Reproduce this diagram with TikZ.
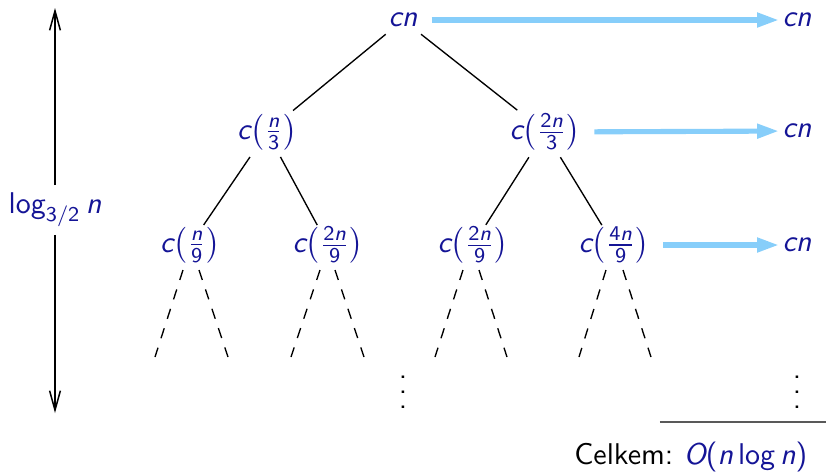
\documentclass[tikz,border=0pt]{standalone}
\usepackage{amsmath}
\usetikzlibrary{arrows.meta}
\renewcommand\familydefault{\sfdefault}
\DeclareMathVersion{sans}
\SetSymbolFont{operators}{sans}{TU}{lmss}{m}{n}
\SetSymbolFont{letters}{sans}{TU}{lmss}{m}{sl}
\AtBeginDocument{\mathversion{sans}}
\definecolor{nodeblue}{RGB}{20,20,150}
\definecolor{arrowblue}{RGB}{135,206,250}
\newcommand{\myvdots}{\vbox{\baselineskip5pt\lineskiplimit0pt\hbox{.}\hbox{.}\hbox{.}}}
\newcommand{\cfr}[2]{c\bigl(\tfrac{#1}{#2}\bigr)}
\tikzset{
  tnode/.style={text=nodeblue, inner sep=2.5pt},
  tedge/.style={line width=0.45pt, shorten >=-2.5pt, shorten <=-0.5pt},
  dedge/.style={line width=0.45pt, dash pattern=on 3.5pt off 3.3pt},
  sumarrow/.style={arrowblue, line width=1.7pt, -{Triangle[length=7.3pt,width=4.6pt]}, shorten <=2pt, shorten >=-1.5pt},
  lvarrow/.style={line width=0.5pt, -{Straight Barb[length=6.5pt,width=3.6pt]}},
}
\begin{document}
\begin{tikzpicture}[x=0.3333pt,y=-0.3333pt]
\useasboundingbox (0,0) rectangle (826,471);
% tree nodes
\node[tnode] (root) at (403,20) {$cn$};
\node[tnode] (a) at (267,132) {$\cfr{n}{3}$};
\node[tnode] (b) at (545,132) {$\cfr{2n}{3}$};
\node[tnode] (a1) at (190,245) {$\cfr{n}{9}$};
\node[tnode] (a2) at (328,245) {$\cfr{2n}{9}$};
\node[tnode] (b1) at (473,245) {$\cfr{2n}{9}$};
\node[tnode] (b2) at (614,245) {$\cfr{4n}{9}$};
% right column
\node[tnode] (r0) at (797,20) {$cn$};
\node[tnode] (r1) at (797,131) {$cn$};
\node[tnode] (r2) at (797,245) {$cn$};
% edges
\draw[tedge] (root) -- (a);
\draw[tedge] (root) -- (b);
\draw[tedge] (a) -- (a1);
\draw[tedge] (a) -- (a2);
\draw[tedge] (b) -- (b1);
\draw[tedge] (b) -- (b2);
% dashed continuations
\coordinate (a1l) at (155,357); \coordinate (a1r) at (228,357);
\coordinate (a2l) at (291,357); \coordinate (a2r) at (364,357);
\coordinate (b1l) at (435,357); \coordinate (b1r) at (507,357);
\coordinate (b2l) at (579,357); \coordinate (b2r) at (651,357);
\coordinate (a1s1) at (183,270); \coordinate (a1s2) at (199,270);
\coordinate (a2s1) at (320,270); \coordinate (a2s2) at (335,270);
\coordinate (b1s1) at (463,270); \coordinate (b1s2) at (479,270);
\coordinate (b2s1) at (606,270); \coordinate (b2s2) at (623,270);
\draw[dedge] (a1s1) -- (a1l);
\draw[dedge] (a1s2) -- (a1r);
\draw[dedge] (a2s1) -- (a2l);
\draw[dedge] (a2s2) -- (a2r);
\draw[dedge] (b1s1) -- (b1l);
\draw[dedge] (b1s2) -- (b1r);
\draw[dedge] (b2s1) -- (b2l);
\draw[dedge] (b2s2) -- (b2r);
% sum arrows
\draw[sumarrow] (root) -- (r0);
\draw[sumarrow] (b) -- (r1);
\draw[sumarrow] (b2) -- (r2);
% vdots
\node (vd1) at (403,392) {\myvdots};
\node (vd2) at (797,392) {\myvdots};
% total
\coordinate (hl1) at (660,422);
\coordinate (hl2) at (826,422);
\draw[black!65, line width=0.7pt] (hl1) -- (hl2);
\node[anchor=base east, inner sep=0pt] (tot) at (808,464) {Celkem:\kern3.5pt\textcolor{nodeblue}{$O(n\log n)$}};
% height arrow
\node[tnode] (lg) at (55,210) {$\log_{\text{3/2}} n$};
\coordinate (htop) at (55,8);
\coordinate (hbot) at (55,413);
\draw[lvarrow] (lg) -- (htop);
\draw[lvarrow] (lg) -- (hbot);
\end{tikzpicture}
\end{document}
